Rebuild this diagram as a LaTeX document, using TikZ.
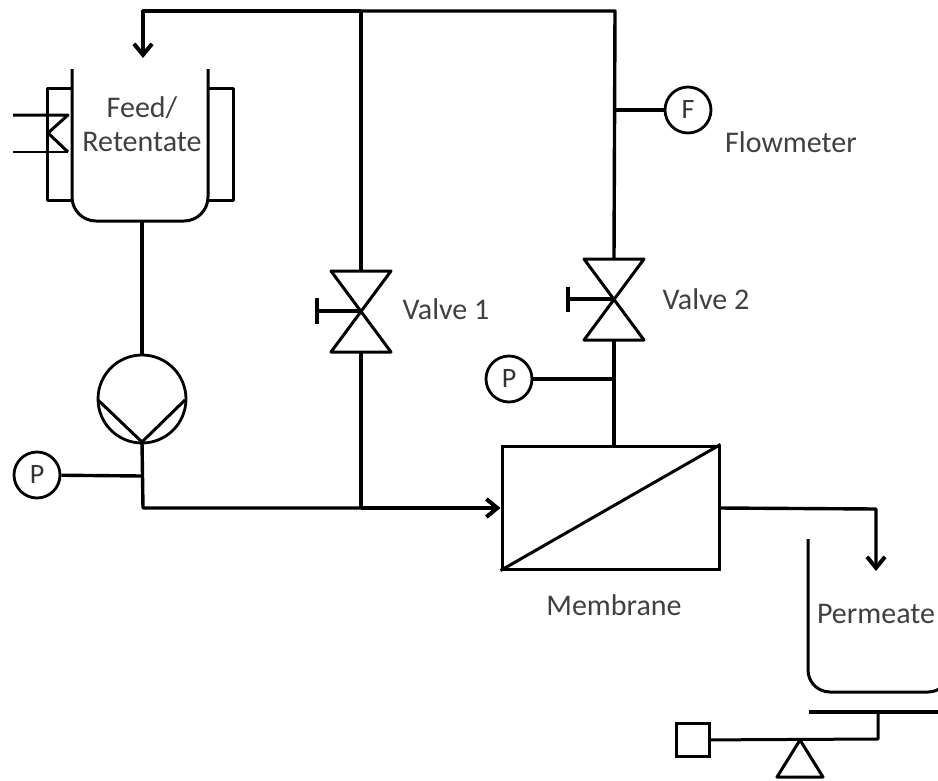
\documentclass[tikz,border=0pt]{standalone}
\usepackage{fontspec}
\setmainfont{Carlito}
\usepackage{tikz}
\usetikzlibrary{arrows.meta,positioning,calc}

\tikzset{
    pipe/.style={line width=3.4pt, line join=round},
    flowpipe/.style={pipe, -{Straight Barb[length=11pt,width=18pt,line width=4pt]}},
    thinline/.style={line width=3pt, line join=round},
    gauge/.style={circle, draw, line width=2.8pt, minimum size=46pt, inner sep=0pt, font=\fontsize{28}{30}\selectfont, text=black!80},
    tag/.style={font=\fontsize{30}{34}\selectfont, text=black!75, inner sep=0pt, align=center},
}

\begin{document}
\begin{tikzpicture}[x=1pt, y=-1pt]
    \useasboundingbox (0, 0) rectangle (938, 780);

    % Feed vessel
    \draw[thinline, rounded corners=24pt] (72, 69) -- (72, 221) -- (208, 221) -- (208, 69);
    \draw[thinline] (72, 88) -- (47, 88) -- (47, 200) -- (72, 200);
    \draw[thinline] (208, 88) -- (233, 88) -- (233, 200) -- (208, 200);
    \draw[thinline] (13, 115) -- (68, 115) -- (48, 133) -- (68, 152);
    \draw[line width=2pt] (68, 152) -- (13, 152);
    \node[tag] (feedlabel) at (142, 124) {Feed/\\Retentate};

    % Pump
    \node[circle, draw, line width=2.8pt, minimum size=88pt, inner sep=0pt] (pump) at (142, 399) {};
    \coordinate (pumpout) at (142, 442);
    \draw[thinline] (98, 400) -- (pumpout) -- (185, 400);
    \coordinate (feedout) at (142, 221);
    \draw[pipe] (feedout) -- (pump);

    % Membrane
    \node[draw, line width=3pt, minimum width=217pt, minimum height=123pt, inner sep=0pt] (membrane) at (610.5, 507.5) {};
    \draw[thinline] (membrane.south west) -- (membrane.north east);
    \node[tag] (membranelabel) at (614, 605) {Membrane};

    % Feed line and pressure gauge
    \coordinate (feedcorner) at (143, 508);
    \coordinate (valveonebase) at (361, 508);
    \coordinate (gaugeonetee) at (142, 476);
    \draw[pipe] (pumpout) -- (feedcorner) -- (valveonebase);
    \draw[flowpipe] (valveonebase) -- (membrane.west |- valveonebase);
    \node[gauge] (gaugeone) at (37, 475) {P};
    \draw[pipe] (gaugeone) -- (gaugeonetee);

    % Valve 1
    \coordinate (valveonetop) at (361, 271);
    \coordinate (valveonemid) at (361, 311);
    \coordinate (valveonebot) at (361, 352);
    \draw[thinline] (331, 271) -- (391, 271) -- (331, 352) -- (391, 352) -- cycle;
    \draw[pipe] (valveonemid) -- (317, 311);
    \draw[pipe] (317, 298) -- (317, 324);
    \draw[pipe] (valveonebase) -- (valveonebot);
    \node[tag] (valveonelabel) at (446, 309) {Valve 1};

    % Valve 2
    \coordinate (valvetwotop) at (614, 259);
    \coordinate (valvetwomid) at (614, 299);
    \coordinate (valvetwobot) at (614, 340);
    \draw[thinline] (584, 259) -- (644, 259) -- (584, 340) -- (644, 340) -- cycle;
    \draw[pipe] (valvetwomid) -- (568, 299);
    \draw[pipe] (568, 287) -- (568, 312);
    \draw[pipe] (membrane.north -| valvetwobot) -- (valvetwobot);
    \node[tag] (valvetwolabel) at (706, 299) {Valve 2};

    % Second pressure gauge
    \node[gauge] (gaugetwo) at (509, 379) {P};
    \coordinate (gaugetwotee) at (614, 379);
    \draw[pipe] (gaugetwo) -- (gaugetwotee);

    % Return line
    \coordinate (returnright) at (615, 11);
    \coordinate (returnmid) at (361, 11);
    \coordinate (returnleft) at (143, 11);
    \coordinate (returnend) at (143, 58);
    \draw[pipe] (valvetwotop) -- (returnright) -- (returnmid);
    \draw[pipe] (valveonetop) -- (returnmid);
    \draw[flowpipe] (returnmid) -- (returnleft) -- (returnend);

    % Flowmeter
    \node[gauge] (flowmeter) at (688, 110) {F};
    \coordinate (flowtee) at (615, 110);
    \draw[pipe] (flowmeter) -- (flowtee);
    \node[tag] (flowlabel) at (791, 142) {Flowmeter};

    % Permeate vessel
    \draw[thinline, rounded corners=22pt] (808, 539) -- (808, 692) -- (950, 692) -- (950, 600);
    \node[tag] (permeatelabel) at (876, 614) {Permeate};
    \coordinate (outstart) at (719, 508);
    \coordinate (outcorner) at (876, 509);
    \coordinate (outend) at (876, 571);
    \draw[flowpipe] (outstart) -- (outcorner) -- (outend);

    % Scale
    \draw[pipe] (809, 712) -- (938, 712);
    \node[draw, line width=2.8pt, minimum size=33pt, inner sep=0pt] (weight) at (693, 740) {};
    \coordinate (beamend) at (878, 739);
    \coordinate (platestem) at (878, 712);
    \draw[thinline] (weight) -- (beamend) -- (platestem);
    \draw[thinline] (800, 740) -- (777, 777) -- (823, 777) -- cycle;
\end{tikzpicture}
\end{document}
